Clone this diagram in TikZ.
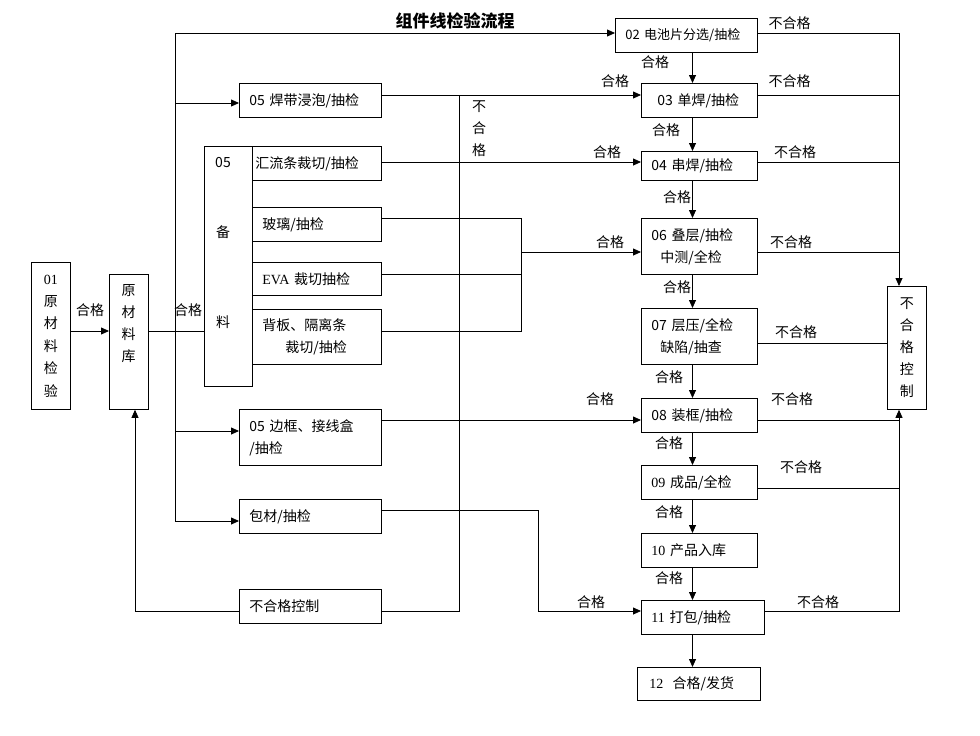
\documentclass[tikz,border=0pt]{standalone}
\usepackage{fontspec}
\newfontfamily\cjk{Noto Sans CJK SC}
\newfontfamily\tms{Liberation Serif}
\usetikzlibrary{arrows.meta}
\begin{document}
\begin{tikzpicture}[x=1pt,y=-1pt,line width=0.8pt,
  f14/.style={font=\cjk\fontsize{14}{22}\selectfont},
  box/.style={draw, f14, anchor=north west, inner xsep=10pt, inner ysep=0pt, align=left},
  vbox/.style={draw, f14, anchor=north west, inner sep=0pt, align=center},
  lbl/.style={f14, inner sep=0pt},
  arr/.style={-{Triangle[length=8pt,width=7pt]}}]
\useasboundingbox (0,0) rectangle (980,736);

% title
\node[font=\cjk\bfseries\fontsize{17}{20}\selectfont] (title) at (455,21) {组件线检验流程};

% right column
\node[box, text width=122pt, minimum height=34pt, font=\cjk\fontsize{13}{22}\selectfont] (n02) at (615,18) {02 电池片分选/抽检};
\node[box, text width=96pt, minimum height=34pt] (n03) at (641,83) {\hspace*{6pt}03 单焊/抽检};
\node[box, text width=96pt, minimum height=29pt] (n04) at (641,151) {04 串焊/抽检};
\node[box, text width=96pt, minimum height=56pt] (n06) at (641,218) {06 叠层/抽检\\\hspace*{9pt}中测/全检};
\node[box, text width=96pt, minimum height=56pt] (n07) at (641,308) {07 层压/全检\\\hspace*{9pt}缺陷/抽查};
\node[box, text width=96pt, minimum height=34pt] (n08) at (641,398) {08 装框/抽检};
\node[box, text width=96pt, minimum height=34pt] (n09) at (641,465) {{\tms 09} 成品/全检};
\node[box, text width=96pt, minimum height=34pt] (n10) at (641,533) {{\tms 10} 产品入库};
\node[box, text width=103pt, minimum height=34pt] (n11) at (641,600) {{\tms 11} 打包/抽检};
\node[box, text width=103pt, minimum height=33pt] (n12) at (637,667) {\hspace*{2pt}{\tms 12}\ \ 合格/发货};
\node[vbox, minimum width=39pt, minimum height=123pt] (rbhg) at (887,286) {不\\合\\格\\控\\制};

% left column
\node[vbox, minimum width=39pt, minimum height=147pt, font=\cjk\fontsize{14}{22.4}\selectfont] (n01) at (31,262) {{\tms 01}\\原\\材\\料\\检\\验};
\node[vbox, minimum width=39pt, minimum height=135pt] (rmk) at (109,274) {};
\node[lbl, align=center] (rmkt) at (128.5,324) {原\\材\\料\\库};
\node[vbox, minimum width=48pt, minimum height=240pt] (beiliao) at (204,146) {};
\node[lbl] (bl1) at (223,163) {05};
\node[lbl] (bl2) at (223,232) {备};
\node[lbl] (bl3) at (223,322) {料};

\node[box, text width=122pt, minimum height=34pt] (n05a) at (239,83) {05 焊带浸泡/抽检};
\node[box, inner xsep=3pt, text width=123pt, minimum height=34pt] (hlt) at (252,146) {汇流条裁切/抽检};
\node[box, text width=109pt, minimum height=34pt] (glass) at (252,207) {玻璃/抽检};
\node[box, text width=109pt, minimum height=33pt] (eva) at (252,262) {{\tms EVA} 裁切抽检};
\node[box, text width=109pt, minimum height=55pt] (back) at (252,309) {背板、隔离条\\\hspace*{23pt}裁切/抽检};
\node[box, text width=122pt, minimum height=56pt] (frame) at (239,409) {05 边框、接线盒\\/抽检};
\node[box, text width=122pt, minimum height=34pt] (bao) at (239,499) {包材/抽检};
\node[box, text width=122pt, minimum height=34pt] (bhg) at (239,589) {不合格控制};

% connectors left
\draw[arr] (n01.east |- 0,331) -- (rmk.west |- 0,331);
\draw (rmk.east |- 0,331) -- (beiliao.west |- 0,331);
\coordinate (tT) at (175,33);
\coordinate (tB) at (175,521);
\coordinate (t1) at (175,103);
\coordinate (t2) at (175,431);
\draw[arr] (tB) -- (tT) -- (n02.west |- tT);
\draw[arr] (t1) -- (n05a.west |- t1);
\draw[arr] (t2) -- (frame.west |- t2);
\draw[arr] (tB) -- (bao.west |- tB);

\draw[arr] (n05a.east |- 0,95) -- (n03.west |- 0,95);
\coordinate (v1) at (459,95);
\coordinate (v2) at (459,611);
\draw (v1) -- (v2) -- (bhg.east |- v2);
\draw[arr] (hlt.east |- 0,162) -- (n04.west |- 0,162);
\coordinate (m1) at (521,218);
\coordinate (m2) at (521,331);
\coordinate (m3) at (521,252);
\coordinate (m4) at (521,274);
\draw (glass.east |- m1) -- (m1) -- (m2) -- (back.east |- m2);
\draw (eva.east |- m4) -- (m4);
\draw[arr] (m3) -- (n06.west |- m3);
\draw[arr] (frame.east |- 0,420) -- (n08.west |- 0,420);
\coordinate (b1) at (538,510);
\coordinate (b2) at (538,611);
\draw[arr] (bao.east |- b1) -- (b1) -- (b2) -- (n11.west |- b2);
\coordinate (r1) at (135,611);
\draw[arr] (bhg.west |- r1) -- (r1) -- (rmk.south -| r1);

% centre arrows
\coordinate (cx) at (692.5,0);
\foreach \a/\b in {n02/n03,n03/n04,n04/n06,n06/n07,n07/n08,n08/n09,n09/n10,n10/n11,n11/n12}
  \draw[arr] (\a.south -| cx) -- (\b.north -| cx);

% right connectors
\coordinate (R0) at (899,33);
\coordinate (R8) at (899,611);
\coordinate (R3) at (899,95);
\coordinate (R4) at (899,162);
\coordinate (R6) at (899,252);
\coordinate (R7) at (899,420);
\coordinate (R9) at (899,488);
\draw[arr] (n02.east |- R0) -- (R0) -- (rbhg.north -| R0);
\draw (n03.east |- R3) -- (R3);
\draw (n04.east |- R4) -- (R4);
\draw (n06.east |- R6) -- (R6);
\draw (n07.east |- 0,343) -- (rbhg.west |- 0,343);
\draw (n08.east |- R7) -- (R7);
\draw (n09.east |- R9) -- (R9);
\draw[arr] (n11.east |- R8) -- (R8) -- (rbhg.south -| R8);

% labels
\node[lbl, align=center] (lv) at (479,129) {不\\合\\格};
\foreach \x/\y/\t [count=\i] in {
  90/310/合格, 188/310/合格, 655/62/合格, 615/81/合格,
  789.5/23/不合格, 789.5/81/不合格, 666/130/合格, 607/152/合格,
  795/152/不合格, 677/197/合格, 610/242/合格, 791/242/不合格,
  677/287/合格, 796/332/不合格, 669/377/合格, 600/399/合格,
  792/399/不合格, 669/443/合格, 801/467/不合格, 669/512/合格,
  669/578/合格, 591/602/合格, 818/602/不合格}
  \node[lbl] (lab\i) at (\x,\y) {\t};
\end{tikzpicture}
\end{document}
